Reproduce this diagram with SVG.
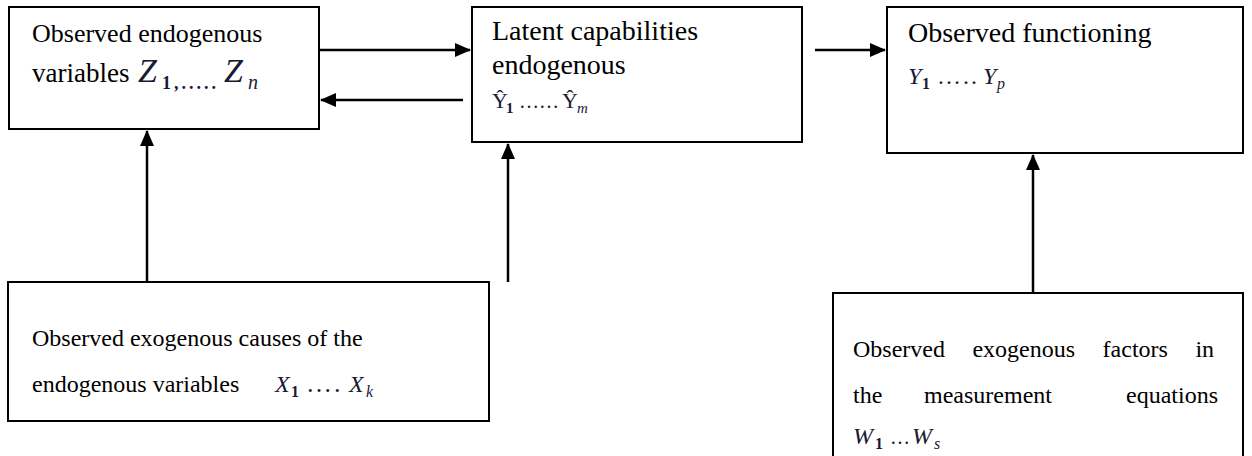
<svg xmlns="http://www.w3.org/2000/svg" width="1252" height="456" viewBox="0 0 1252 456">
<style>
.box{fill:#fff;stroke:#000;stroke-width:2}
.t{font-family:"Liberation Serif","Times New Roman",serif;fill:#000}
.m{font-family:"Liberation Serif","DejaVu Serif",serif;font-style:italic;fill:#1a1a33}
.u{font-style:normal}
.b{font-weight:bold;font-style:normal}
.c{stroke:#000;stroke-width:2.5;fill:none;marker-end:url(#ah)}
</style>
<defs>
<marker id="ah" markerWidth="16" markerHeight="14" refX="15" refY="7" orient="auto" markerUnits="userSpaceOnUse">
<path d="M0,0 L16,7 L0,14 Z" fill="#000"/>
</marker>
</defs>
<g id="connectors">
<line class="c" x1="319" y1="50" x2="470" y2="50"/>
<line class="c" x1="463" y1="100" x2="321" y2="100"/>
<line class="c" x1="815" y1="50" x2="885" y2="50"/>
<line class="c" x1="147" y1="282" x2="147" y2="131"/>
<line class="c" x1="508" y1="282" x2="508" y2="144"/>
<line class="c" x1="1033" y1="293" x2="1033" y2="155"/>
</g>
<g id="node-z">
<rect class="box" x="9" y="7" width="310" height="122"/>
<text class="t" font-size="26" x="32" y="42">Observed endogenous</text>
<text class="t" font-size="27" x="32" y="82">variables</text>
<text class="m" font-size="34" x="138" y="82">Z</text>
<text class="m b" font-size="18" x="162" y="89" letter-spacing="3">1,.....</text>
<text class="m" font-size="34" x="224" y="82">Z</text>
<text class="m" font-size="20" x="248" y="89">n</text>
</g>
<g id="node-yhat">
<rect class="box" x="472" y="7" width="330" height="135"/>
<text class="t" font-size="28" x="492" y="40">Latent capabilities</text>
<text class="t" font-size="28" x="492" y="74">endogenous</text>
<text class="m u" font-size="22" x="492" y="108">Ŷ</text>
<text class="m b" font-size="15" x="506" y="113">1</text>
<text class="m u" font-size="20" x="519" y="108" textLength="40" lengthAdjust="spacing">……</text>
<text class="m u" font-size="22" x="562" y="108">Ŷ</text>
<text class="m" font-size="15" x="577" y="113">m</text>
</g>
<g id="node-y">
<rect class="box" x="887" y="7" width="356" height="146"/>
<text class="t" font-size="28" x="908" y="42">Observed functioning</text>
<text class="m" font-size="24" x="908" y="84">Y</text>
<text class="m b" font-size="16" x="922" y="89">1</text>
<text class="m u" font-size="24" x="937" y="84" letter-spacing="2">…..</text>
<text class="m" font-size="24" x="983" y="84">Y</text>
<text class="m" font-size="16" x="997" y="89">p</text>
</g>
<g id="node-x">
<rect class="box" x="8" y="282" width="481" height="139"/>
<text class="t" font-size="24" x="32" y="346">Observed exogenous causes of the</text>
<text class="t" font-size="24" x="32" y="392">endogenous variables</text>
<text class="m" font-size="24" x="275" y="392">X</text>
<text class="m b" font-size="16" x="291" y="397">1</text>
<text class="m u" font-size="26" x="306" y="392" letter-spacing="2">….</text>
<text class="m" font-size="24" x="349" y="392">X</text>
<text class="m" font-size="16" x="366" y="397">k</text>
</g>
<g id="node-w">
<rect class="box" x="833" y="293" width="410" height="170"/>
<text class="t" font-size="24" x="853" y="357" word-spacing="21.5">Observed exogenous factors in</text>
<text class="t" font-size="24" x="853" y="403">the</text>
<text class="t" font-size="24" x="924" y="403">measurement</text>
<text class="t" font-size="24" x="1218" y="403" text-anchor="end">equations</text>
<text class="m" font-size="24" x="853" y="444">W</text>
<text class="m b" font-size="16" x="875" y="449">1</text>
<text class="m u" font-size="20" x="890" y="444">…</text>
<text class="m" font-size="24" x="912" y="444">W</text>
<text class="m" font-size="16" x="934" y="449">s</text>
</g>
</svg>
